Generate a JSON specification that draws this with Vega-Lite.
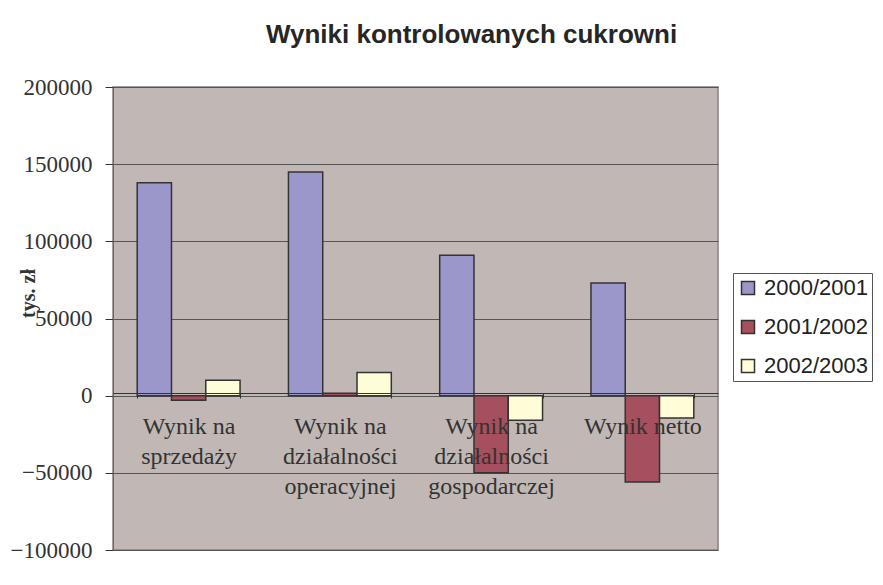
{
  "$schema": "https://vega.github.io/schema/vega-lite/v6.json",
  "width": 605,
  "height": 463,
  "autosize": "none",
  "padding": {"left": 113, "top": 87, "right": 165, "bottom": 35},
  "background": "white",
  "title": {"text": "Wyniki kontrolowanych cukrowni", "font": "Liberation Sans", "fontSize": 26, "fontWeight": "bold", "color": "#262626", "anchor": "middle", "dx": 56, "offset": 28},
  "data": {"values": [
    {"wskaznik": "Wynik na sprzedaży", "rok": "2000/2001", "wartosc": 138000},
    {"wskaznik": "Wynik na sprzedaży", "rok": "2001/2002", "wartosc": -3000},
    {"wskaznik": "Wynik na sprzedaży", "rok": "2002/2003", "wartosc": 10000},
    {"wskaznik": "Wynik na działalności operacyjnej", "rok": "2000/2001", "wartosc": 145000},
    {"wskaznik": "Wynik na działalności operacyjnej", "rok": "2001/2002", "wartosc": 1500},
    {"wskaznik": "Wynik na działalności operacyjnej", "rok": "2002/2003", "wartosc": 15000},
    {"wskaznik": "Wynik na działalności gospodarczej", "rok": "2000/2001", "wartosc": 91000},
    {"wskaznik": "Wynik na działalności gospodarczej", "rok": "2001/2002", "wartosc": -50000},
    {"wskaznik": "Wynik na działalności gospodarczej", "rok": "2002/2003", "wartosc": -16000},
    {"wskaznik": "Wynik netto", "rok": "2000/2001", "wartosc": 73000},
    {"wskaznik": "Wynik netto", "rok": "2001/2002", "wartosc": -56000},
    {"wskaznik": "Wynik netto", "rok": "2002/2003", "wartosc": -14500}
  ]},
  "mark": {"type": "bar", "stroke": "#333333", "strokeWidth": 1.5},
  "encoding": {
    "x": {
      "field": "wskaznik", "type": "nominal", "sort": null,
      "scale": {"paddingInner": 0.32, "paddingOuter": 0.16},
      "axis": {
        "title": null, "orient": "bottom", "offset": -157, "zindex": 1,
        "domainColor": "#333333", "tickBand": "extent", "tickColor": "#333333", "tickSize": 5,
        "labelFont": "Liberation Serif", "labelFontSize": 24, "labelColor": "#333333",
        "labelPadding": 16, "labelAngle": 0, "labelLineHeight": 30,
        "labelOverlap": false, "labelBound": false, "labelLimit": 300,
        "labelExpr": "datum.label == 'Wynik netto' ? datum.label : split(replace(replace(datum.label, / /g, '|'), 'Wynik|na', 'Wynik na'), '|')"
      }
    },
    "xOffset": {"field": "rok", "type": "nominal", "scale": {"paddingInner": 0}},
    "y": {
      "field": "wartosc", "type": "quantitative",
      "scale": {"domain": [-100000, 200000], "nice": false},
      "axis": {
        "title": "tys. zł",
        "values": [-100000, -50000, 0, 50000, 100000, 150000, 200000],
        "format": "d", "grid": true, "gridColor": "#555555", "gridWidth": 1,
        "domainColor": "#666666", "tickColor": "#333333", "tickSize": 8,
        "labelFont": "Liberation Serif", "labelFontSize": 23, "labelColor": "#333333", "labelPadding": 13,
        "titleFont": "Liberation Serif", "titleFontSize": 20, "titleFontWeight": "bold", "titleColor": "#333333",
        "titleX": -75, "titleY": 206
      }
    },
    "color": {
      "field": "rok", "type": "nominal",
      "scale": {"domain": ["2000/2001", "2001/2002", "2002/2003"], "range": ["#9B97CA", "#A64F5E", "#FFFDD8"]},
      "legend": {
        "title": null, "orient": "none", "legendX": 620, "legendY": 186,
        "labelFont": "Liberation Sans", "labelFontSize": 22, "labelColor": "#222222", "labelLimit": 200, "labelOffset": 5,
        "symbolType": "square", "symbolSize": 169, "symbolStrokeColor": "#333333", "symbolStrokeWidth": 1.5,
        "rowPadding": 17, "strokeColor": "#555555", "fillColor": "white", "padding": 4
      }
    }
  },
  "config": {"view": {"fill": "#C1B8B5", "stroke": "#858080", "strokeWidth": 1.5}}
}
